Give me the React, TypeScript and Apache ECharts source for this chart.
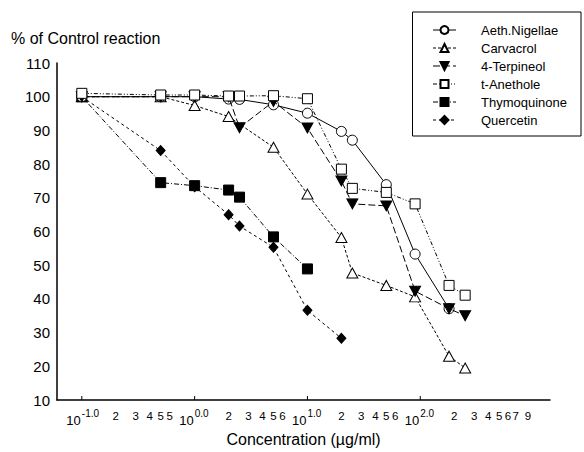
import React, { useEffect, useRef } from "react";
import * as echarts from "echarts";

const FONT = "'Liberation Sans', Arial, Helvetica, sans-serif";

// Series names (legend order)
const seriesNames = ["Aeth.Nigellae", "Carvacrol", "4-Terpineol", "t-Anethole", "Thymoquinone", "Quercetin"];

// Concentrations (µg/ml) and % of control reaction
const aethConc = [0.1, 0.5, 1, 2, 2.5, 5, 10, 20, 25, 50, 90, 180];
const aethVal = [100, 100, 100, 99.3, 99.2, 97.6, 95.1, 89.7, 87.1, 73.9, 53.3, 37.1];

const carvConc = [0.1, 0.5, 1, 2, 5, 10, 20, 25, 50, 90, 180, 250];
const carvVal = [100, 100, 97.4, 94.1, 85.0, 71.1, 58.2, 47.7, 44.0, 40.6, 23.0, 19.5];

const terpConc = [0.1, 0.5, 1, 2, 2.5, 5, 10, 20, 25, 50, 90, 180, 250];
const terpVal = [100, 100, 100, 100, 90.8, 98.6, 90.7, 75.0, 68.2, 67.6, 42.3, 37.1, 35.0];

const anetConc = [0.1, 0.5, 1, 2, 2.5, 5, 10, 20, 25, 50, 90, 180, 250];
const anetVal = [101, 100.5, 100.5, 100.2, 100.2, 100.3, 99.4, 78.5, 72.8, 71.6, 68.2, 44.0, 41.1];

const thymConc = [0.1, 0.5, 1, 2, 2.5, 5, 10];
const thymVal = [100, 74.5, 73.6, 72.3, 70.2, 58.4, 48.9];

const querConc = [0.1, 0.5, 1, 2, 2.5, 5, 10, 20];
const querVal = [100, 84.0, 73.3, 65.0, 61.6, 55.3, 36.6, 28.3];

// Axis ticks / labels
const xMinLog = -1.22;
const xMaxLog = 3.15;
const yMin = 10;
const yMax = 110;
const yInterval = 10;
const decadeTicks = [0.1, 1, 10, 100];
const decadeExponents = ["-1.0", "0.0", "1.0", "2.0"];
const minorTicks = [0.2, 0.3, 0.4, 0.5, 0.6, 2, 3, 4, 5, 6, 20, 30, 40, 50, 60, 200, 300, 400, 500, 600, 700, 900];
const minorLabels = ["2", "3", "4", "5", "5", "2", "3", "4", "5", "6", "2", "3", "4", "5", "6", "2", "3", "4", "5", "6", "7", "9"];

const yTitle = "% of Control reaction";
const xTitle = "Concentration (µg/ml)";

export default function App() {
  const ref = useRef<HTMLDivElement>(null);

  useEffect(() => {
    const chart = echarts.init(ref.current!, null, { renderer: "svg" });

    const toPts = (c: number[], v: number[]) => c.map((x, i) => [Math.log10(x), v[i]]);

    const lineSeries = (
      name: string,
      conc: number[],
      vals: number[],
      symbol: string,
      size: number | number[],
      fill: string,
      dash: any,
      rotate = 0,
      z = 2
    ) => ({
      type: "line",
      name,
      data: toPts(conc, vals),
      symbol,
      symbolSize: size,
      symbolRotate: rotate,
      showSymbol: true,
      z,
      lineStyle: { color: "#000", width: 1, type: dash },
      itemStyle: { color: fill, borderColor: "#000", borderWidth: 1, opacity: 1 },
      emphasis: { disabled: true },
    });

    const txt = (text: string, x: number, y: number, size: number, align: string) => ({
      type: "text",
      x,
      y,
      style: {
        text,
        fontSize: size,
        fontFamily: FONT,
        fill: "#000",
        align,
        textAlign: align,
        verticalAlign: "middle",
        textVerticalAlign: "middle",
      },
    });

    chart.setOption({
      animation: false,
      backgroundColor: "#fff",
      title: {
        text: yTitle,
        left: 11,
        top: 30,
        padding: 0,
        textStyle: { fontSize: 16, fontWeight: "normal", fontFamily: FONT, color: "#000" },
      },
      legend: {
        data: seriesNames,
        orient: "vertical",
        right: 3,
        top: 12,
        padding: [11, 14, 9, 20],
        itemGap: 4,
        itemWidth: 23,
        itemHeight: 10,
        borderColor: "#000",
        borderWidth: 1,
        selectedMode: false,
        lineStyle: { width: 1 },
        textStyle: {
          fontSize: 13,
          fontFamily: FONT,
          color: "#000",
          lineHeight: 14,
          padding: [0, 0, 0, 20],
        },
      },
      grid: { left: 57, right: 34, top: 63, bottom: 48.5 },
      xAxis: {
        type: "value",
        min: xMinLog,
        max: xMaxLog,
        axisLine: { show: true, onZero: false, lineStyle: { color: "#000", width: 1.5 } },
        axisTick: { show: false },
        axisLabel: { show: false },
        splitLine: { show: false },
        name: xTitle,
        nameLocation: "middle",
        nameGap: 31,
        nameTextStyle: { fontSize: 16, fontFamily: FONT, color: "#000" },
      },
      yAxis: {
        type: "value",
        min: yMin,
        max: yMax,
        interval: yInterval,
        axisLine: { show: true, onZero: false, lineStyle: { color: "#000", width: 1.5 } },
        axisTick: { show: false },
        axisLabel: { fontSize: 15, fontFamily: FONT, color: "#000", margin: 7 },
        splitLine: { show: false },
      },
      series: [
        lineSeries(seriesNames[0], aethConc, aethVal, "circle", 10, "#fff", "solid", 0, 3),
        lineSeries(seriesNames[1], carvConc, carvVal, "triangle", [11, 10], "#fff", [3, 2], 0, 2),
        lineSeries(seriesNames[2], terpConc, terpVal, "triangle", [11, 10], "#000", [7, 3], 180, 4),
        lineSeries(seriesNames[3], anetConc, anetVal, "rect", 10, "#fff", [4, 2, 1, 2, 1, 2], 0, 5),
        lineSeries(seriesNames[4], thymConc, thymVal, "rect", 10, "#000", [5, 2, 1, 2], 0, 2),
        lineSeries(seriesNames[5], querConc, querVal, "diamond", [9, 10], "#000", [3, 3], 0, 2),
        {
          type: "custom",
          name: "decades",
          silent: true,
          clip: false,
          z: 10,
          data: decadeTicks.map((v) => [Math.log10(v), yMin]),
          renderItem: (params: any, api: any) => {
            const p = api.coord([api.value(0), api.value(1)]);
            const i = params.dataIndex;
            return {
              type: "group",
              children: [
                {
                  type: "line",
                  shape: { x1: p[0], y1: p[1], x2: p[0], y2: p[1] - 4 },
                  style: { stroke: "#000", lineWidth: 1 },
                },
                txt("10", p[0] - 1, p[1] + 20, 13, "right"),
                txt(decadeExponents[i], p[0], p[1] + 13.5, 10, "left"),
              ],
            };
          },
        },
        {
          type: "custom",
          name: "minors",
          silent: true,
          clip: false,
          z: 10,
          data: minorTicks.map((v) => [Math.log10(v), yMin]),
          renderItem: (params: any, api: any) => {
            const p = api.coord([api.value(0), api.value(1)]);
            return txt(minorLabels[params.dataIndex], p[0], p[1] + 16, 11.5, "center");
          },
        },
      ],
    });

    return () => chart.dispose();
  }, []);

  return <div ref={ref} style={{ position: "fixed", left: 0, top: 0, width: 584, height: 452 }} />;
}
